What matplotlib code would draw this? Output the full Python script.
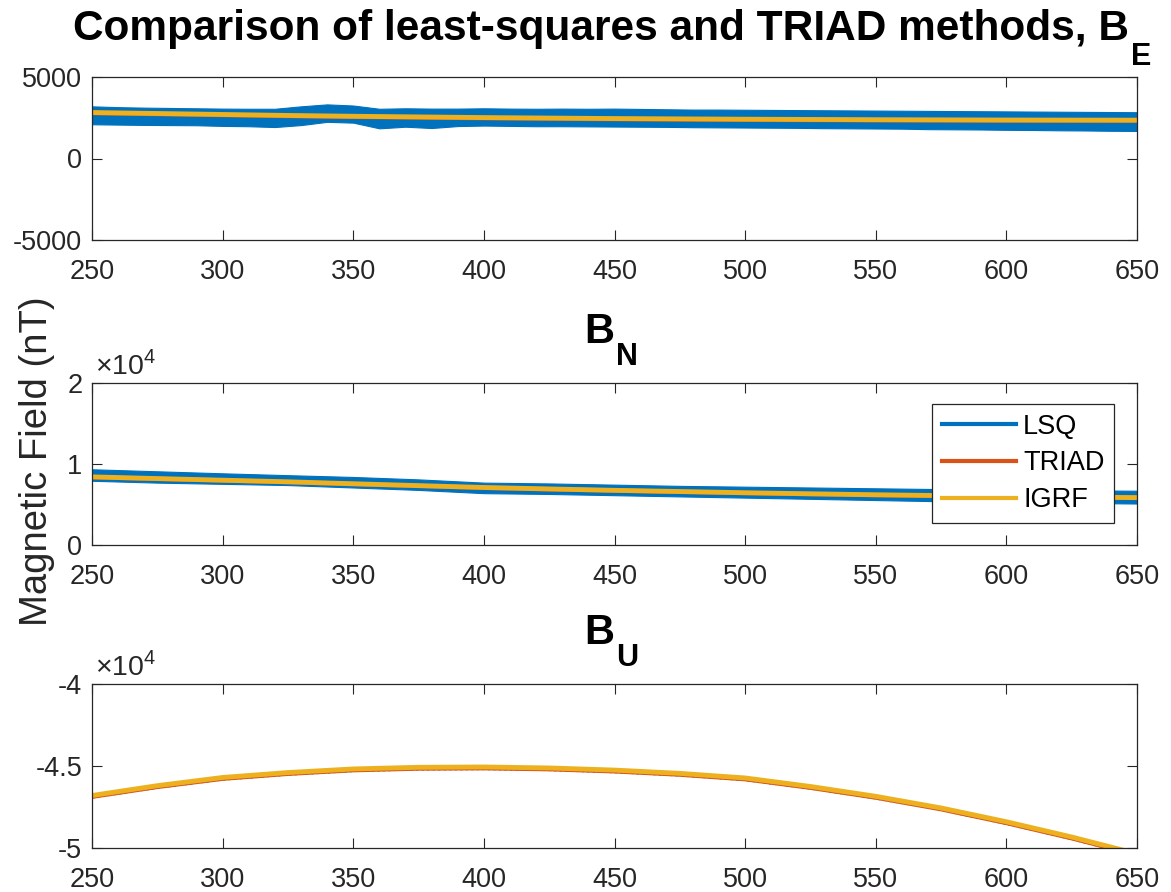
import matplotlib
matplotlib.use("Agg")
import matplotlib.pyplot as plt
from matplotlib.lines import Line2D
from matplotlib.ticker import FuncFormatter

plt.rcParams['font.family'] = ['Liberation Sans', 'DejaVu Sans']
plt.rcParams['mathtext.fontset'] = 'custom'
plt.rcParams['mathtext.rm'] = 'Liberation Sans'
plt.rcParams['mathtext.bf'] = 'Liberation Sans:bold'
plt.rcParams['axes.unicode_minus'] = False

# colours used by MATLAB by default
C_LSQ = '#0072BD'
C_TRIAD = '#D95319'
C_IGRF = '#EDB120'
DARK = '#262626'

# time axis for the smooth curves (step 25)
t = [250, 275, 300, 325, 350, 375, 400, 425, 450, 475, 500, 525, 550, 575, 600, 625, 650]
# time axis for the east LSQ envelope (step 10)
t_e = list(range(250, 651, 10))

# --- B_E (nT) ---
be_igrf = [2820, 2760, 2700, 2640, 2590, 2550, 2510, 2480, 2450, 2430, 2410,
           2395, 2380, 2370, 2360, 2355, 2350]
be_triad = [2790, 2730, 2670, 2610, 2560, 2520, 2480, 2450, 2420, 2400, 2380,
            2365, 2350, 2340, 2330, 2325, 2320]
be_lsq_hi = [3200, 3150, 3120, 3100, 3080, 3060, 3050, 3050, 3200, 3320,
             3250, 3050, 3080, 3060, 3060, 3080, 3060, 3050, 3060, 3050,
             3060, 3040, 3020, 3000, 3000, 2990, 2980, 2970, 2960, 2950,
             2940, 2930, 2920, 2910, 2900, 2890, 2880, 2870, 2860, 2850, 2840]
be_lsq_lo = [2100, 2080, 2060, 2050, 2040, 2000, 1980, 1930, 2050, 2250,
             2200, 1850, 1950, 1870, 1990, 2020, 2000, 1980, 1980, 1970,
             1960, 1950, 1940, 1920, 1910, 1900, 1890, 1880, 1860, 1850,
             1840, 1830, 1800, 1790, 1780, 1760, 1750, 1730, 1720, 1700, 1690]

# --- B_N (nT) ---
bn_igrf = [8410, 8200, 8000, 7800, 7560, 7330, 7100, 6920, 6750, 6600, 6450,
           6320, 6200, 6100, 6000, 5920, 5850]
bn_triad = [8380, 8170, 7970, 7770, 7530, 7300, 7070, 6890, 6720, 6570, 6420,
            6290, 6170, 6070, 5970, 5890, 5820]
bn_lsq_hi = [9350, 9100, 8850, 8620, 8400, 8100, 7700, 7600, 7450, 7300, 7200,
             7100, 7000, 6900, 6850, 6750, 6700]
bn_lsq_lo = [7930, 7700, 7550, 7400, 7100, 6800, 6400, 6300, 6150, 6000, 5850,
             5700, 5550, 5400, 5300, 5200, 5120]

# --- B_U (nT) ---
bu_igrf = [-46800, -46200, -45700, -45400, -45180, -45080, -45060, -45120,
           -45250, -45450, -45730, -46250, -46850, -47560, -48400, -49330, -50350]
bu_triad = [-46880, -46280, -45780, -45480, -45260, -45160, -45140, -45200,
            -45330, -45530, -45810, -46330, -46930, -47640, -48480, -49410, -50430]
bu_lsq = [-46930, -46330, -45830, -45530, -45310, -45210, -45190, -45250,
          -45380, -45580, -45860, -46380, -46980, -47690, -48530, -49460, -50480]

W, H = 1171, 892
fig = plt.figure(figsize=(W / 100, H / 100), dpi=100)


def px_axes(left, top, right, bottom):
    return fig.add_axes([left / W, 1 - bottom / H, (right - left) / W, (bottom - top) / H])


def bold_sub(x_split, y_base, main, sub, y_sub, size, sub_size):
    # MATLAB style title: big bold text, subscript dropped below the baseline
    fig.text(x_split / W, 1 - y_base / H, main, fontsize=size, fontweight='bold',
             ha='right', va='baseline')
    fig.text((x_split + 2) / W, 1 - y_sub / H, sub, fontsize=sub_size,
             fontweight='bold', ha='left', va='baseline')


ax1 = px_axes(92, 77, 1137, 240)
ax2 = px_axes(92, 383, 1137, 545)
ax3 = px_axes(92, 684, 1137, 848)

# B_E
ax1.fill_between(t_e, be_lsq_lo, be_lsq_hi, color=C_LSQ, lw=0.8, edgecolor=C_LSQ)
ax1.plot(t, be_triad, color=C_TRIAD, lw=3.2)
ax1.plot(t, be_igrf, color=C_IGRF, lw=3.5)
ax1.set_ylim(-5000, 5000)
ax1.set_yticks([-5000, 0, 5000])
bold_sub(1129, 40, 'Comparison of least-squares and TRIAD methods, B', 'E', 65, 30.5, 22)

# B_N
ax2.fill_between(t, bn_lsq_lo, bn_lsq_hi, color=C_LSQ, lw=0.8, edgecolor=C_LSQ)
ax2.plot(t, bn_triad, color=C_TRIAD, lw=3.2)
ax2.plot(t, bn_igrf, color=C_IGRF, lw=3.5)
ax2.set_ylim(0, 20000)
ax2.set_yticks([0, 10000, 20000])
bold_sub(614, 343, 'B', 'N', 365, 30, 22)

# B_U
ax3.plot(t, bu_lsq, color=C_LSQ, lw=1.5, ls=':')
ax3.plot(t, bu_triad, color=C_TRIAD, lw=3.0)
ax3.plot(t, bu_igrf, color=C_IGRF, lw=3.5)
ax3.set_ylim(-50000, -40000)
ax3.set_yticks([-50000, -45000, -40000])
bold_sub(614, 644, 'B', 'U', 666, 30, 22)

sci = FuncFormatter(lambda v, p: f"{v / 1e4:g}")
for ax in (ax2, ax3):
    ax.yaxis.set_major_formatter(sci)
    ax.text(0.003, 1 + 9 / 162, r'$\times10^4$', transform=ax.transAxes,
            fontsize=20.5, color=DARK, ha='left', va='baseline')

for ax in (ax1, ax2, ax3):
    ax.set_xlim(250, 650)
    ax.set_xticks(range(250, 651, 50))
    ax.tick_params(direction='in', top=True, right=True, length=7.5, width=0.8,
                   labelsize=19.5, colors=DARK, pad=7)
    ax.tick_params(axis='x', pad=14)
    for s in ax.spines.values():
        s.set_color(DARK)
        s.set_linewidth(0.9)

handles = [Line2D([], [], color=C_LSQ, lw=3),
           Line2D([], [], color=C_TRIAD, lw=3),
           Line2D([], [], color=C_IGRF, lw=3)]
leg = ax2.legend(handles, ['LSQ', 'TRIAD', 'IGRF'], loc='upper right',
                 bbox_to_anchor=(0.978, 0.87), borderaxespad=0, fontsize=19.5,
                 fancybox=False, framealpha=1, edgecolor=DARK,
                 handlelength=2.75, handletextpad=0.25, labelspacing=0.4,
                 borderpad=0.35)
leg.get_frame().set_linewidth(0.9)

fig.text(0.032, 1 - 461 / H, 'Magnetic Field (nT)', rotation=90, fontsize=27.5,
         color=DARK, ha='center', va='center')

fig.savefig('out.png', dpi=100)
